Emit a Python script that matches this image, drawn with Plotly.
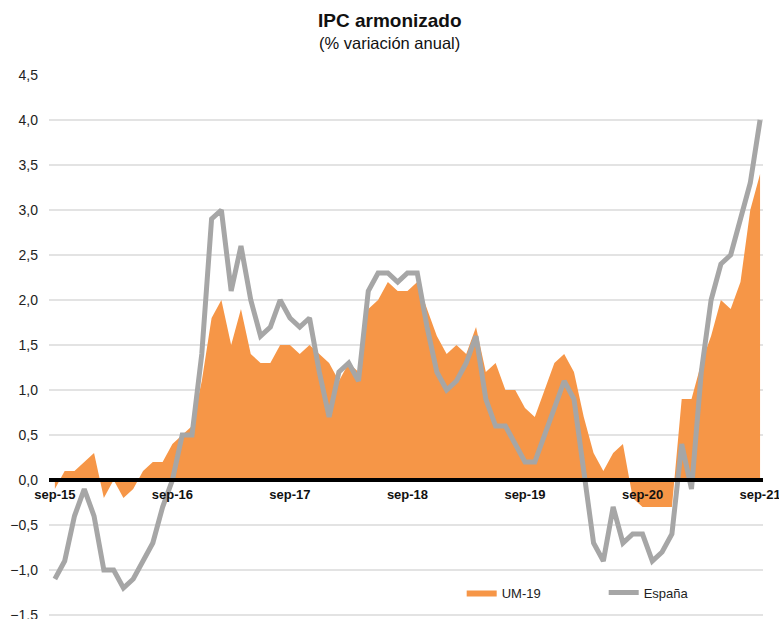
import plotly.graph_objects as go

month_names = ["sep", "oct", "nov", "dic", "ene", "feb", "mar", "abr", "may", "jun", "jul", "ago"]
months = [f"{month_names[i % 12]}-{15 + (i + 8) // 12}" for i in range(73)]

tick_labels = ["sep-15", "sep-16", "sep-17", "sep-18", "sep-19", "sep-20", "sep-21"]

um19 = [-0.1, 0.1, 0.1, 0.2, 0.3, -0.2, 0.0, -0.2, -0.1, 0.1, 0.2, 0.2,
        0.4, 0.5, 0.6, 1.1, 1.8, 2.0, 1.5, 1.9, 1.4, 1.3, 1.3, 1.5,
        1.5, 1.4, 1.5, 1.4, 1.3, 1.1, 1.3, 1.2, 1.9, 2.0, 2.2, 2.1,
        2.1, 2.2, 1.9, 1.6, 1.4, 1.5, 1.4, 1.7, 1.2, 1.3, 1.0, 1.0,
        0.8, 0.7, 1.0, 1.3, 1.4, 1.2, 0.7, 0.3, 0.1, 0.3, 0.4, -0.2,
        -0.3, -0.3, -0.3, -0.3, 0.9, 0.9, 1.3, 1.6, 2.0, 1.9, 2.2, 3.0,
        3.4]

espana = [-1.1, -0.9, -0.4, -0.1, -0.4, -1.0, -1.0, -1.2, -1.1, -0.9, -0.7, -0.3,
          0.0, 0.5, 0.5, 1.4, 2.9, 3.0, 2.1, 2.6, 2.0, 1.6, 1.7, 2.0,
          1.8, 1.7, 1.8, 1.2, 0.7, 1.2, 1.3, 1.1, 2.1, 2.3, 2.3, 2.2,
          2.3, 2.3, 1.7, 1.2, 1.0, 1.1, 1.3, 1.6, 0.9, 0.6, 0.6, 0.4,
          0.2, 0.2, 0.5, 0.8, 1.1, 0.9, 0.1, -0.7, -0.9, -0.3, -0.7, -0.6,
          -0.6, -0.9, -0.8, -0.6, 0.4, -0.1, 1.2, 2.0, 2.4, 2.5, 2.9, 3.3,
          4.0]

y_ticks = [-1.5, -1.0, -0.5, 0.0, 0.5, 1.0, 1.5, 2.0, 2.5, 3.0, 3.5, 4.0, 4.5]

ORANGE = "#F69647"
GRAY = "#A6A6A6"
FONT = "Liberation Sans, Arial, sans-serif"

Y_MIN, Y_MAX = -1.544, 4.5

fig = go.Figure()
fig.add_trace(go.Scatter(
    x=months, y=um19, name="UM-19", mode="lines",
    fill="tozeroy", fillcolor=ORANGE, line=dict(color=ORANGE, width=0),
))
fig.add_trace(go.Scatter(
    x=months, y=espana, name="España", mode="lines",
    line=dict(color=GRAY, width=5),
))

fig.update_layout(
    width=779, height=619,
    margin=dict(l=49, r=16, t=75, b=0, autoexpand=False),
    plot_bgcolor="white", paper_bgcolor="white",
    separators=",.",
    font=dict(family=FONT, size=13, color="#222"),
    showlegend=True,
    legend=dict(
        orientation="h", x=0.578, xanchor="left", y=(-1.25 - Y_MIN) / (Y_MAX - Y_MIN),
        yanchor="middle",
        bgcolor="rgba(0,0,0,0)", entrywidth=97, entrywidthmode="pixels",
        font=dict(family=FONT, size=13, color="#222"),
    ),
    xaxis=dict(
        type="category", range=[-0.6, 72.3], automargin=False,
        tickmode="array", tickvals=[months[i] for i in range(0, 73, 12)],
        ticktext=tick_labels, ticklabeloverflow="allow",
        tickfont=dict(family=FONT, size=13, color="#111", weight="bold"),
        showgrid=False, anchor="free", position=(0 - Y_MIN) / (Y_MAX - Y_MIN),
        showline=True, linecolor="black", linewidth=3.5,
        ticks="", ticklabelstandoff=2,
    ),
    yaxis=dict(
        range=[Y_MIN, Y_MAX], tickvals=y_ticks, tickformat=".1f", automargin=False,
        showgrid=True, gridcolor="#E3E3E3", gridwidth=1.5, ticklabeloverflow="allow",
        zeroline=False, ticks="", ticklabelstandoff=10,
        tickfont=dict(family=FONT, size=14, color="#222"),
    ),
    annotations=[
        dict(text="<b>IPC armonizado</b>", xref="paper", yref="paper",
             x=0.477, y=1, yanchor="middle", yshift=55, showarrow=False,
             font=dict(family=FONT, size=19, color="#111")),
        dict(text="(% variación anual)", xref="paper", yref="paper",
             x=0.477, y=1, yanchor="middle", yshift=32, showarrow=False,
             font=dict(family=FONT, size=16.5, color="#111")),
    ],
)

fig.write_html(
    "out.html",
    config={"displayModeBar": False},
    post_script="document.body.style.margin='0';document.body.style.overflow='hidden';",
)
